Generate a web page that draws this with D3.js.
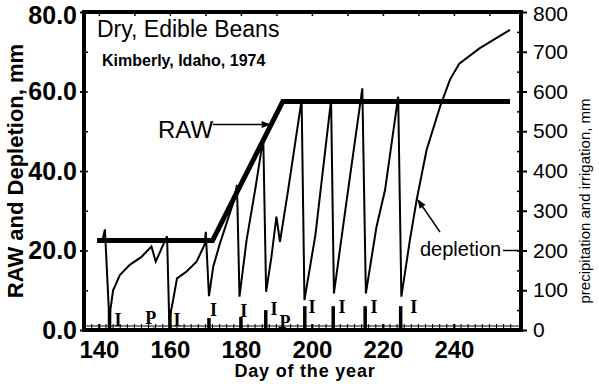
<!DOCTYPE html>
<html>
<head>
<meta charset="utf-8">
<script src="https://cdn.jsdelivr.net/npm/d3@7"></script>
<style>
  html, body { margin: 0; padding: 0; background: #fff; }
  svg { display: block; }
</style>
</head>
<body>
<svg id="chart" width="599" height="384"></svg>
<script>
// ---- data ----
const depletionDay = [141.0, 141.7, 142.9, 144.0, 145.9, 148.7, 152.0, 154.8, 156.0, 159.2, 159.8, 160.9, 162.0, 164.7, 167.5, 169.8, 170.1, 171.0, 172.2, 174.1, 177.8, 178.9, 179.6, 181.6, 184.0, 186.3, 187.1, 188.6, 190.0, 191.0, 193.3, 197.1, 197.9, 201.0, 205.4, 206.2, 209.8, 214.2, 215.2, 218.2, 220.6, 224.3, 225.2, 227.6, 229.5, 232.3, 236.1, 238.9, 241.5, 247.3, 255.8];
const depletionMm  = [22.6, 25.3, 3.0, 10.0, 13.8, 16.4, 18.4, 21.0, 17.2, 23.6, 2.5, 7.5, 13.0, 14.7, 17.2, 21.5, 24.7, 8.5, 15.9, 21.8, 31.9, 36.5, 8.4, 22.6, 35.2, 48.2, 9.6, 18.4, 28.5, 22.2, 35.2, 57.9, 7.5, 24.0, 57.9, 9.2, 32.7, 60.8, 9.2, 26.0, 35.2, 58.7, 8.4, 22.6, 32.7, 45.3, 56.2, 63.0, 67.0, 70.9, 75.5];

const rawDay = [139.5, 172.0, 191.8, 255.8];
const rawMm  = [22.5, 22.5, 57.5, 57.5];

const irrigationDay = [143, 160, 171, 180, 187, 198, 206, 215, 225];
const irrigationMm  = [50, 50, 30, 33, 50, 60, 60, 60, 60];

const precipDay = [155.5, 191];
const precipMm  = [6, 8];

const eventText = ["I", "P", "I", "I", "I", "I", "P", "I", "I", "I", "I"];
const eventDay  = [145.4, 154.6, 162.0, 172.3, 180.8, 189.3, 192.4, 200.0, 208.5, 217.5, 228.7];
const eventMm   = [10, 15, 10, 35, 33, 38, 5, 43, 43, 43, 43];

const xTicks = [140, 160, 180, 200, 220, 240];
const leftTicks = [0, 20, 40, 60, 80];
const rightTicks = [0, 100, 200, 300, 400, 500, 600, 700, 800];

const titleText = "Dry, Edible Beans";
const subtitleText = "Kimberly, Idaho, 1974";
const xTitle = "Day of the year";
const yLeftTitle = "RAW and Depletion, mm";
const yRightTitle = "precipitation and irrigation, mm";

// ---- layout ----
const L = 84, R = 521, T = 12, B = 330;
const svg = d3.select("#chart");
const SANS = "'Liberation Sans', Arial, Helvetica, sans-serif";
const SERIF = "'Liberation Serif', 'Times New Roman', serif";

const x = d3.scaleLinear().domain([135.8, 258.9]).range([L, R]);
const yL = d3.scaleLinear().domain([0, 80]).range([B, T]);
const yR = d3.scaleLinear().domain([0, 800]).range([B, T]);

svg.append("rect").attr("width", 599).attr("height", 384).attr("fill", "#fff");

// minor ticks / baseline
const g = svg.append("g");
g.append("line").attr("x1", L).attr("x2", R).attr("y1", B - 4).attr("y2", B - 4)
  .attr("stroke", "#000").attr("stroke-width", 1.2);
d3.range(138, 258, 2).forEach(d => {
  g.append("line").attr("x1", x(d)).attr("x2", x(d)).attr("y1", B).attr("y2", B - 6)
    .attr("stroke", "#000").attr("stroke-width", 1);
});

// x axis
const xAxis = svg.append("g").attr("transform", `translate(0,${B})`)
  .call(d3.axisBottom(x).tickValues(xTicks).tickSize(-6).tickPadding(5).tickFormat(d3.format("d")));
xAxis.select(".domain").remove();
xAxis.selectAll("line").attr("stroke-width", 2);
xAxis.selectAll("text").attr("font-family", SANS).attr("font-weight", "bold")
  .attr("font-size", 24).attr("fill", "#000").attr("dy", "0.95em");

// top ticks
const xTop = svg.append("g").attr("transform", `translate(0,${T})`)
  .call(d3.axisTop(x).tickValues(d3.range(140, 258, 10)).tickSize(-4).tickFormat(""));
xTop.select(".domain").remove();
xTop.selectAll("line").attr("stroke-width", 1.5);

// left axis
const yAxisL = svg.append("g").attr("transform", `translate(${L},0)`)
  .call(d3.axisLeft(yL).tickValues(leftTicks).tickSize(4).tickPadding(3).tickFormat(d3.format(".1f")));
yAxisL.select(".domain").remove();
yAxisL.selectAll("line").attr("stroke-width", 2);
yAxisL.selectAll("text").attr("font-family", SANS).attr("font-weight", "bold")
  .attr("font-size", 25).attr("fill", "#000")
  .attr("dy", d => d === 80 ? "0.44em" : "0.32em");
const yAxisLin = svg.append("g").attr("transform", `translate(${L},0)`)
  .call(d3.axisRight(yL).tickValues(d3.range(10, 80, 10)).tickSize(4).tickFormat(""));
yAxisLin.select(".domain").remove();
yAxisLin.selectAll("line").attr("stroke-width", 1.5);

// right axis
const yAxisR = svg.append("g").attr("transform", `translate(${R},0)`)
  .call(d3.axisRight(yR).tickValues(rightTicks).tickSize(6).tickPadding(6).tickFormat(d3.format("d")));
yAxisR.select(".domain").remove();
yAxisR.selectAll("line").attr("stroke-width", 2);
yAxisR.selectAll("text").attr("font-family", SANS).attr("font-size", 21).attr("fill", "#000")
  .attr("dy", d => d === 800 ? "0.42em" : "0.32em");
const yAxisRin = svg.append("g").attr("transform", `translate(${R},0)`)
  .call(d3.axisLeft(yR).tickValues(d3.range(50, 800, 50)).tickSize(4).tickFormat(""));
yAxisRin.select(".domain").remove();
yAxisRin.selectAll("line").attr("stroke-width", 1.5);

// precipitation & irrigation bars
const bars = svg.append("g");
irrigationDay.forEach((d, i) => {
  bars.append("line").attr("x1", x(d)).attr("x2", x(d))
    .attr("y1", yR(0)).attr("y2", yR(irrigationMm[i]))
    .attr("stroke", "#000").attr("stroke-width", 3.5);
});
precipDay.forEach((d, i) => {
  bars.append("line").attr("x1", x(d)).attr("x2", x(d))
    .attr("y1", yR(0)).attr("y2", yR(precipMm[i]))
    .attr("stroke", "#000").attr("stroke-width", 2.5);
});

// RAW line
const line = d3.line().x(d => x(d[0])).y(d => yL(d[1]));
svg.append("path").datum(rawDay.map((d, i) => [d, rawMm[i]]))
  .attr("d", line).attr("fill", "none").attr("stroke", "#000")
  .attr("stroke-width", 5).attr("stroke-linejoin", "miter");

// depletion line
svg.append("path").datum(depletionDay.map((d, i) => [d, depletionMm[i]]))
  .attr("d", line).attr("fill", "none").attr("stroke", "#000")
  .attr("stroke-width", 2).attr("stroke-linejoin", "miter");

// event labels
eventText.forEach((t, i) => {
  svg.append("text").attr("x", x(eventDay[i])).attr("y", yR(eventMm[i]))
    .attr("text-anchor", "middle").attr("font-family", SERIF).attr("font-weight", "bold")
    .attr("font-size", 18).text(t);
});

// frame
svg.append("rect").attr("x", L).attr("y", T).attr("width", R - L).attr("height", B - T)
  .attr("fill", "none").attr("stroke", "#000").attr("stroke-width", 4);

// titles
svg.append("text").attr("x", 97).attr("y", 37).attr("font-family", SANS)
  .attr("font-size", 23).text(titleText);
svg.append("text").attr("x", 102).attr("y", 66).attr("font-family", SANS)
  .attr("font-weight", "bold").attr("font-size", 16).text(subtitleText);

// annotations
const defs = svg.append("defs");
defs.append("marker").attr("id", "ah").attr("viewBox", "0 0 10 10").attr("refX", 9).attr("refY", 5)
  .attr("markerWidth", 7).attr("markerHeight", 6).attr("orient", "auto")
  .append("path").attr("d", "M0,1 L10,5 L0,9 Z").attr("fill", "#000");

svg.append("text").attr("x", 158).attr("y", 138).attr("font-family", SANS)
  .attr("font-size", 24).text("RAW");
svg.append("line").attr("x1", 213).attr("y1", 124.5).attr("x2", x(188.7) - 2).attr("y2", 124.5)
  .attr("stroke", "#000").attr("stroke-width", 1.5).attr("marker-end", "url(#ah)");

svg.append("text").attr("x", 420).attr("y", 256).attr("font-family", SANS)
  .attr("font-size", 20).text("depletion");
svg.append("line").attr("x1", 503).attr("y1", yR(200)).attr("x2", R).attr("y2", yR(200))
  .attr("stroke", "#000").attr("stroke-width", 1.5);
svg.append("line").attr("x1", 440).attr("y1", 232).attr("x2", 418).attr("y2", 200)
  .attr("stroke", "#000").attr("stroke-width", 1.5).attr("marker-end", "url(#ah)");

// axis titles
svg.append("text").attr("x", 305).attr("y", 377).attr("text-anchor", "middle")
  .attr("font-family", SANS).attr("font-weight", "bold").attr("font-size", 18)
  .attr("letter-spacing", 0.8).text(xTitle);
svg.append("text").attr("transform", "translate(23,171) rotate(-90)").attr("text-anchor", "middle")
  .attr("font-family", SANS).attr("font-weight", "bold").attr("font-size", 22).text(yLeftTitle);
svg.append("text").attr("transform", "translate(590,201) rotate(-90)").attr("text-anchor", "middle")
  .attr("font-family", SANS).attr("font-size", 15).text(yRightTitle);
</script>
</body>
</html>
